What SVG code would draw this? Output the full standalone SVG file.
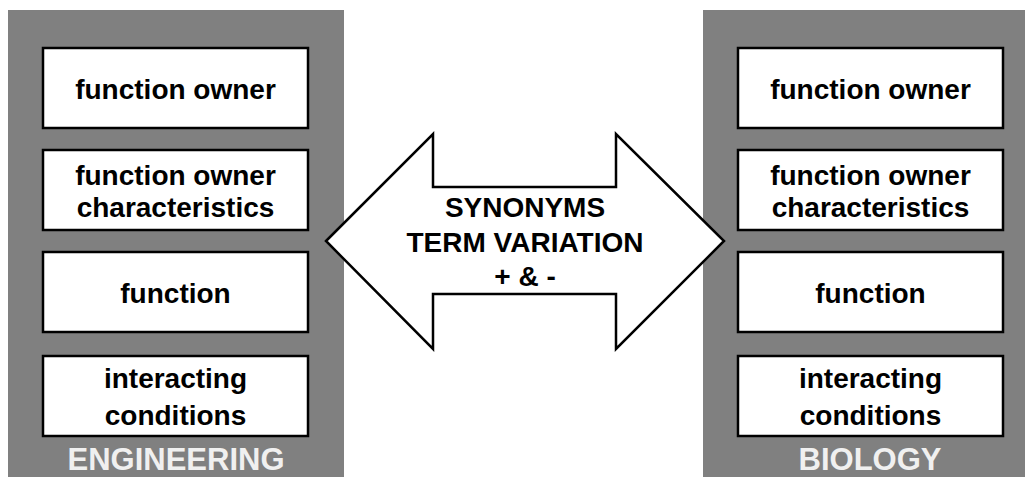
<svg xmlns="http://www.w3.org/2000/svg" width="1025" height="477" viewBox="0 0 1025 477">
<style>
.panel{fill:#808080}
.box{fill:#fff;stroke:#000;stroke-width:2.5}
.t{font-family:"Liberation Sans",Arial,sans-serif;font-weight:bold;font-size:28px;fill:#000;text-anchor:middle}
.lbl{font-family:"Liberation Sans",Arial,sans-serif;font-weight:bold;font-size:31px;fill:#f0f0f0;text-anchor:middle}
.arrow{fill:#fff;stroke:#000;stroke-width:2.5;stroke-linejoin:miter}
</style>
<rect width="1025" height="477" fill="#fff"/>
<g id="engineering">
<rect class="panel" x="8" y="10" width="336" height="467"/>
<text class="lbl" x="176" y="470">ENGINEERING</text>
</g>
<g id="biology">
<rect class="panel" x="703" y="10" width="322" height="467"/>
<text class="lbl" x="870" y="470">BIOLOGY</text>
</g>
<g id="eng-owner"><rect class="box" x="43" y="48" width="265" height="80"/><text class="t" x="175.5" y="99">function owner</text></g>
<g id="eng-char"><rect class="box" x="43" y="150" width="265" height="80"/><text class="t" x="175.5" y="185">function owner</text><text class="t" x="175.5" y="217">characteristics</text></g>
<g id="eng-func"><rect class="box" x="43" y="252" width="265" height="80"/><text class="t" x="175.5" y="303">function</text></g>
<g id="eng-inter"><rect class="box" x="43" y="356" width="265" height="80"/><text class="t" x="175.5" y="388">interacting</text><text class="t" x="175.5" y="425">conditions</text></g>
<g id="bio-owner"><rect class="box" x="738" y="48" width="265" height="80"/><text class="t" x="870.5" y="99">function owner</text></g>
<g id="bio-char"><rect class="box" x="738" y="150" width="265" height="80"/><text class="t" x="870.5" y="185">function owner</text><text class="t" x="870.5" y="217">characteristics</text></g>
<g id="bio-func"><rect class="box" x="738" y="252" width="265" height="80"/><text class="t" x="870.5" y="303">function</text></g>
<g id="bio-inter"><rect class="box" x="738" y="356" width="265" height="80"/><text class="t" x="870.5" y="388">interacting</text><text class="t" x="870.5" y="425">conditions</text></g>
<g id="connectors">
<g id="synonyms">
<path class="arrow" d="M326,241 L433,134 L433,187 L616,187 L616,134 L724,241 L616,349 L616,294 L433,294 L433,349 Z"/>
<text class="t" x="525" y="217">SYNONYMS</text>
<text class="t" x="525" y="252">TERM VARIATION</text>
<text class="t" x="525" y="286">+ &amp; -</text>
</g>
</g>
</svg>
